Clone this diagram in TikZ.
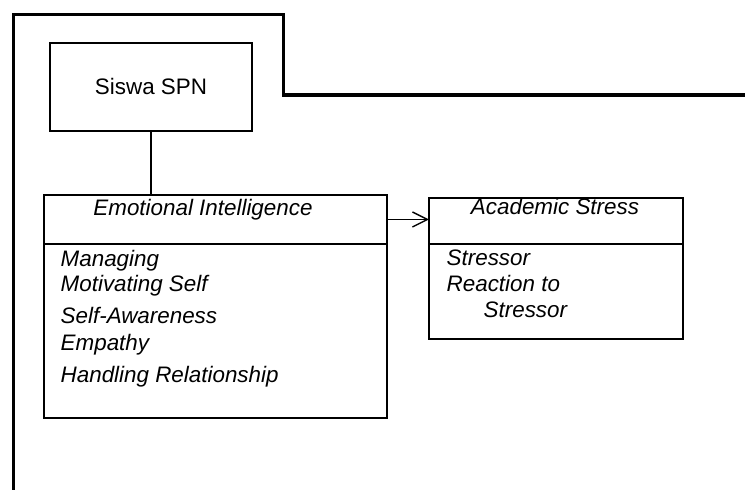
\documentclass[tikz,border=0pt]{standalone}
\usepackage{fontspec}
\setmainfont{Liberation Sans}
\usetikzlibrary{arrows.meta}

\begin{document}
\begin{tikzpicture}[x=1pt,y=-1pt,>={Straight Barb[length=7.5pt,width=7.5pt]},line width=0.7pt,
    box/.style={draw,rectangle,inner sep=0pt,outer sep=0pt},
    label text/.style={font=\fontsize{11.2}{13}\selectfont\itshape,anchor=base west,inner sep=0pt}]
    \useasboundingbox (0,0) rectangle (372.5,245);

    % outer frame
    \draw[line width=1.8pt] (6.75,245) -- (6.75,7.25) -- (141.75,7.25) -- (141.75,47.5) -- (372.5,47.5);

    \node[box,minimum width=101pt,minimum height=44pt,font=\fontsize{11.2}{13}\selectfont] (spn) at (75.5,43.5) {Siswa SPN};

    \node[box,minimum width=171.5pt,minimum height=24.5pt] (eihead) at (107.75,109.75) {};
    \node[box,minimum width=171.5pt,minimum height=87pt,anchor=north] (eibody) at (eihead.south) {};
    \node[box,minimum width=127pt,minimum height=23pt] (ashead) at (278,110.5) {};
    \node[box,minimum width=127pt,minimum height=47.5pt,anchor=north] (asbody) at (ashead.south) {};

    \node[label text,anchor=base] (eititle) at (101.5,108) {Emotional Intelligence};
    \node[label text] (ei1) at (30,133.5) {Managing};
    \node[label text] (ei2) at (30,146) {Motivating Self};
    \node[label text] (ei3) at (30,162) {Self-Awareness};
    \node[label text] (ei4) at (30,175.5) {Empathy};
    \node[label text] (ei5) at (30,191.5) {Handling Relationship};

    \node[label text,anchor=base] (astitle) at (277.5,107.5) {Academic Stress};
    \node[label text] (as1) at (223,133) {Stressor};
    \node[label text] (as2) at (223,145.8) {Reaction to};
    \node[label text] (as3) at (241.5,159) {Stressor};

    \draw (spn.south) -- (spn.south |- eihead.north);
    \draw[->] (eihead.east) -- (eihead.east -| ashead.west);
\end{tikzpicture}
\end{document}
